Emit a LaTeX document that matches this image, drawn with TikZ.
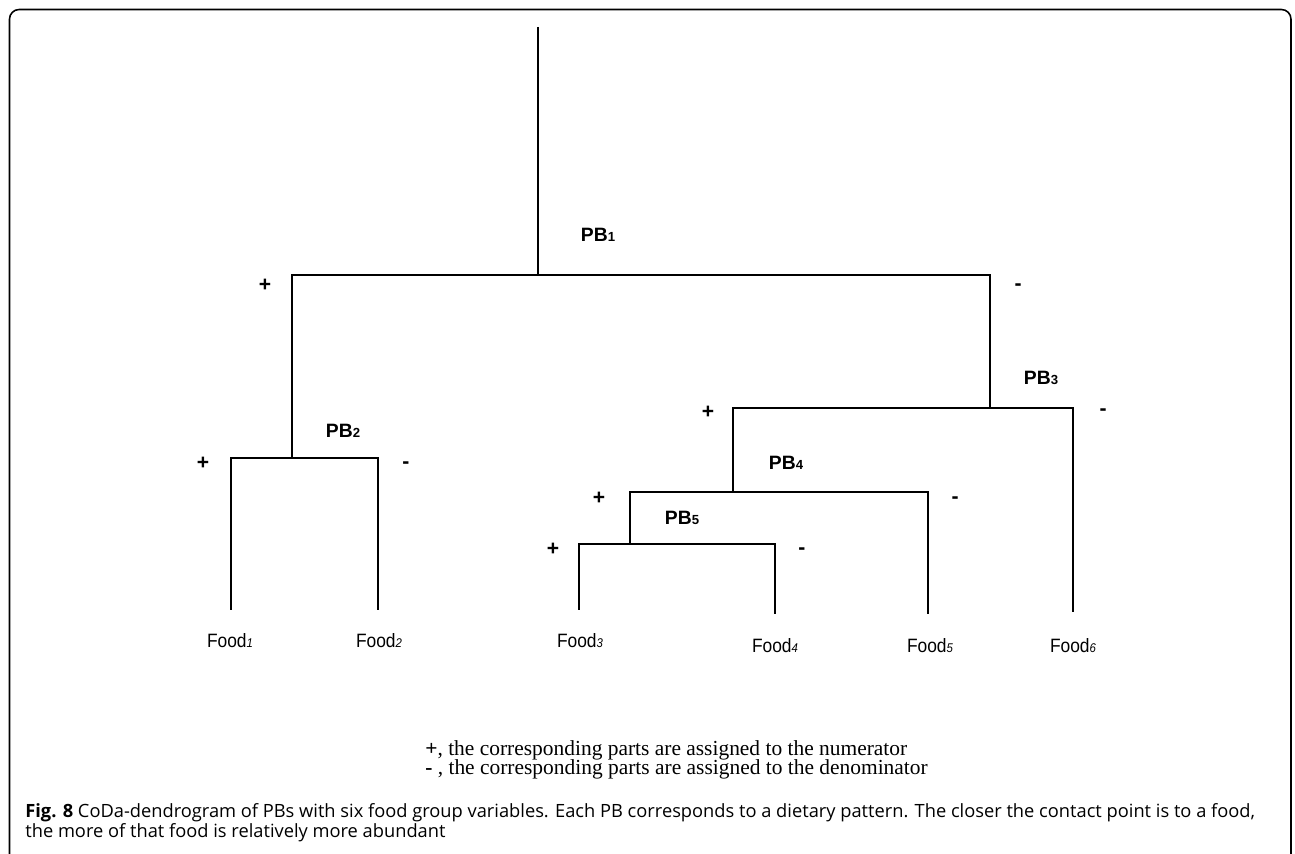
\documentclass[tikz,border=0pt]{standalone}
\usepackage{fontspec}
\setmainfont{Liberation Sans}
\newfontfamily\foodfont[FakeStretch=0.9]{Liberation Sans}
\newfontfamily\legendfont{Liberation Serif}
\newfontfamily\captionfont{Open Sans}
\usetikzlibrary{positioning}

\newcommand{\pblab}[1]{\textbf{PB}{\fontsize{7.5}{8}\selectfont\bfseries #1}}
\newcommand{\foodlab}[1]{Food{\fontsize{7.2}{8}\selectfont\itshape #1}}

\begin{document}
\begin{tikzpicture}[%
  x=0.02cm, y=-0.02cm,
  branch/.style={line width=1.1pt},
  frame/.style={line width=0.9pt, rounded corners=5.5pt},
  pb/.style={font=\fontsize{11}{12}\selectfont},
  sign/.style={font=\fontsize{12}{13}\selectfont\bfseries},
  food/.style={anchor=base, font=\foodfont\fontsize{11}{12}\selectfont},
  legend/.style={anchor=base west, inner sep=0pt, font=\legendfont\fontsize{12.2}{14}\selectfont},
  caption/.style={anchor=base west, inner sep=0pt, font=\captionfont\fontsize{10.4}{12}\selectfont},
]

  \useasboundingbox (0,0) rectangle (1295,854);

  % frame, open at the bottom
  \draw[frame] (9.5,854) |- (1291,9.5) -- (1291,854);

  % stems and joins
  \coordinate (top) at (538,27);
  \coordinate (j1) at (538,275);
  \coordinate (j2) at (292,458);
  \coordinate (j3) at (990,408);
  \coordinate (j4) at (733,492);
  \coordinate (j5) at (630,544);

  % leaf ends
  \coordinate (t1) at (231,610);
  \coordinate (t2) at (378,610);
  \coordinate (t3) at (579,610);
  \coordinate (t4) at (775,614);
  \coordinate (t5) at (928,614);
  \coordinate (t6) at (1073,612);

  \draw[branch] (top) -- (j1);
  \draw[branch] (j2) |- (j1) -| (j3);
  \draw[branch] (t1) |- (j2) -| (t2);
  \draw[branch] (j4) |- (j3) -| (t6);
  \draw[branch] (j5) |- (j4) -| (t5);
  \draw[branch] (t3) |- (j5) -| (t4);

  % balances
  \node[pb] (pb1) at (598,235) {\pblab{1}};
  \node[pb] (pb2) at (343,431) {\pblab{2}};
  \node[pb] (pb3) at (1041,378) {\pblab{3}};
  \node[pb] (pb4) at (786,463) {\pblab{4}};
  \node[pb] (pb5) at (682,518) {\pblab{5}};

  % signs
  \node[sign] (p1) at (265,285) {+};
  \node[sign] (m1) at (1018,287) {-};
  \node[sign] (p2) at (203,463) {+};
  \node[sign] (m2) at (406,465) {-};
  \node[sign] (p3) at (708,412) {+};
  \node[sign] (m3) at (1103,412) {-};
  \node[sign] (p4) at (599,498) {+};
  \node[sign] (m4) at (955,500) {-};
  \node[sign] (p5) at (553,549) {+};
  \node[sign] (m5) at (802,551) {-};

  % foods
  \node[food] (food1) at (230,647) {\foodlab{1}};
  \node[food] (food2) at (379,647) {\foodlab{2}};
  \node[food] (food3) at (580,647) {\foodlab{3}};
  \node[food] (food4) at (775,652) {\foodlab{4}};
  \node[food] (food5) at (930,652) {\foodlab{5}};
  \node[food] (food6) at (1073,652) {\foodlab{6}};

  % legend
  \node[legend] (leg1) at (425,755)
    {\textbf{+}, the corresponding parts are assigned to the numerator};
  \node[legend] (leg2) at (425,774)
    {\textbf{-} , the corresponding parts are assigned to the denominator};

  % caption
  \node[caption] (cap1) at (25,817)
    {\textbf{Fig. 8} CoDa-dendrogram of PBs with six food group variables. Each PB corresponds to a dietary pattern. The closer the contact point is to a food,};
  \node[caption] (cap2) at (25,837)
    {the more of that food is relatively more abundant};

\end{tikzpicture}
\end{document}
